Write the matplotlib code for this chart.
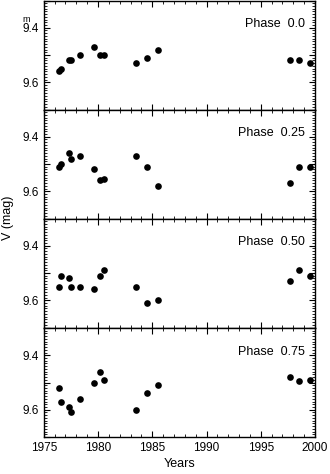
import matplotlib
matplotlib.use("Agg")
import matplotlib.pyplot as plt
from matplotlib.ticker import MultipleLocator, FixedLocator

plt.rcParams['font.family'] = ['Liberation Sans', 'DejaVu Sans']

years = [1976.42, 1976.61, 1977.34, 1977.52, 1978.35, 1979.6, 1980.16, 1980.59,
         1983.52, 1984.47, 1985.54, 1997.65, 1998.53, 1999.54]

mag_00 = [9.56, 9.55, 9.52, 9.52, 9.50, 9.47, 9.50, 9.50, 9.53, 9.51, 9.48, 9.52, 9.52, 9.53]
mag_25 = [9.51, 9.50, 9.46, 9.48, 9.47, 9.52, 9.56, 9.555, 9.47, 9.51, 9.58, 9.57, 9.51, 9.51]
mag_50 = [9.55, 9.51, 9.52, 9.55, 9.55, 9.56, 9.51, 9.49, 9.55, 9.61, 9.60, 9.53, 9.49, 9.51]
mag_75 = [9.52, 9.57, 9.59, 9.61, 9.56, 9.50, 9.46, 9.49, 9.60, 9.54, 9.51, 9.48, 9.495, 9.49]

phase_labels = ["Phase  0.0", "Phase  0.25", "Phase  0.50", "Phase  0.75"]
series = [mag_00, mag_25, mag_50, mag_75]

fig = plt.figure(figsize=(3.30, 4.74), dpi=100)
left, right = 43.8 / 330, 315 / 330
top_px = [0.5, 109.5, 218.5, 328.0]
h_px = 109.0
axes = []
for i in range(4):
    b = 1 - (top_px[i] + h_px) / 474
    ax = fig.add_axes([left, b, right - left, h_px / 474])
    axes.append(ax)
    ax.plot(years, series[i], 'o', color='black', markersize=4.8, markeredgewidth=0)
    ax.set_xlim(1975, 2000)
    ax.set_ylim(9.7, 9.3)
    ax.yaxis.set_major_locator(FixedLocator([9.3, 9.4, 9.5, 9.6, 9.7]))
    ax.yaxis.set_minor_locator(MultipleLocator(0.01))
    ax.xaxis.set_major_locator(MultipleLocator(5))
    ax.xaxis.set_minor_locator(MultipleLocator(1))
    ax.set_yticklabels(["", "9.4", "", "9.6", ""])
    ax.tick_params(axis='both', which='both', direction='in', top=True, right=True,
                   labelsize=8.5, colors='black')
    ax.tick_params(which='major', length=4, width=0.8)
    ax.tick_params(which='minor', length=2, width=0.6)
    for s in ax.spines.values():
        s.set_linewidth(1.0)
    ax.text(0.963, 0.78, phase_labels[i], transform=ax.transAxes, ha='right', va='center',
            fontsize=9)
    if i < 3:
        ax.tick_params(labelbottom=False)
    else:
        ax.set_xlabel("Years", fontsize=9, labelpad=3)

# magnitude superscript on the top 9.4 label
fig.text(26.5 / 330, 1 - 21.5 / 474, "m", ha='center', va='baseline', fontsize=6.5)

fig.text(0.025, 1 - 218 / 474, "V (mag)", rotation=90, ha='center', va='center', fontsize=9)

fig.savefig("out.png", dpi=100)
